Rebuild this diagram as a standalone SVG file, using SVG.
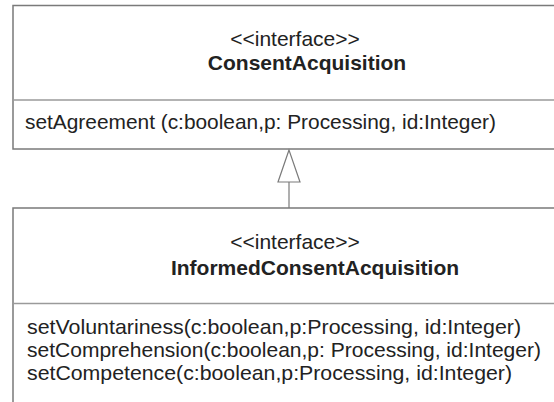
<svg xmlns="http://www.w3.org/2000/svg" width="554" height="402" viewBox="0 0 554 402">
<style>
.box{fill:#ffffff;stroke:#7a7a7a;stroke-width:1.5}
.sep{stroke:#9a9a9a;stroke-width:1.5}
.st{font-family:"Liberation Sans",Arial,sans-serif;font-size:21px;fill:#222222}
.ti{font-family:"Liberation Sans",Arial,sans-serif;font-size:21px;font-weight:bold;fill:#222222}
.conn{stroke:#7a7a7a;stroke-width:1.2;fill:none}
.head{fill:#ffffff;stroke:#7a7a7a;stroke-width:1.2}
</style>
<rect width="554" height="402" fill="#ffffff"/>
<g id="ConsentAcquisition">
<rect class="box" x="13" y="5.5" width="560" height="143.5"/>
<line class="sep" x1="13" y1="100" x2="560" y2="100"/>
<text class="st" x="295" y="46" text-anchor="middle">&lt;&lt;interface&gt;&gt;</text>
<text class="ti" x="307" y="70" text-anchor="middle">ConsentAcquisition</text>
<text class="st" x="25" y="129" textLength="471" lengthAdjust="spacingAndGlyphs">setAgreement (c:boolean,p: Processing, id:Integer)</text>
</g>
<g id="InformedConsentAcquisition">
<rect class="box" x="13" y="208" width="560" height="220"/>
<line class="sep" x1="13" y1="303.5" x2="560" y2="303.5"/>
<text class="st" x="295" y="249" text-anchor="middle">&lt;&lt;interface&gt;&gt;</text>
<text class="ti" x="315" y="275" text-anchor="middle">InformedConsentAcquisition</text>
<text class="st" x="27" y="334" textLength="494" lengthAdjust="spacingAndGlyphs">setVoluntariness(c:boolean,p:Processing, id:Integer)</text>
<text class="st" x="27" y="357" textLength="514" lengthAdjust="spacingAndGlyphs">setComprehension(c:boolean,p: Processing, id:Integer)</text>
<text class="st" x="27" y="380" textLength="485" lengthAdjust="spacingAndGlyphs">setCompetence(c:boolean,p:Processing, id:Integer)</text>
</g>
<g id="connectors">
<line class="conn" x1="289" y1="182" x2="289" y2="208"/>
<polygon class="head" points="289,150 278,182 300,182"/>
</g>
</svg>
